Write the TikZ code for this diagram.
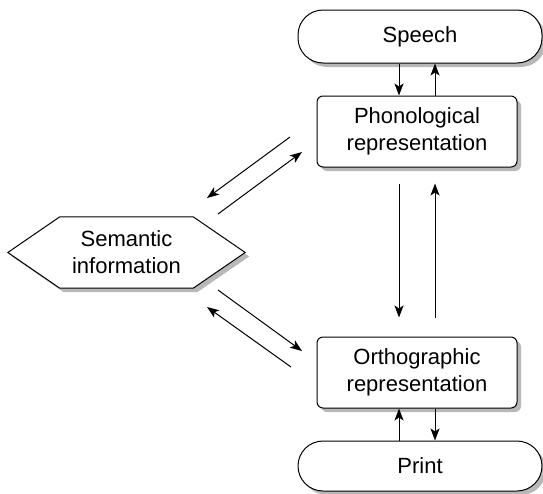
\documentclass[tikz,border=0pt]{standalone}
\usepackage{fontspec}
\setmainfont{Liberation Sans}
\usetikzlibrary{arrows.meta,shadows,calc,backgrounds}
\begin{document}
\begin{tikzpicture}[x=1pt,y=-1pt,
  font=\fontsize{22}{27}\selectfont,
  shadowed/.style={drop shadow={shadow xshift=4pt,shadow yshift=-4pt,fill=black!28,opacity=1}},
  box/.style={draw,line width=1pt,fill=white,rounded corners=6pt,minimum width=200pt,minimum height=71pt,align=center,inner sep=0pt,shadowed},
  pill/.style={draw,line width=1pt,fill=white,rounded corners=25pt,minimum width=244pt,align=center,inner sep=0pt,shadowed},
  arr/.style={line width=1pt,-{Stealth[length=12pt,width=9pt,inset=3pt]}}]
\useasboundingbox (0,0) rectangle (543,493);
\node[pill,minimum height=53pt] (speech) at (420,36.5) {Speech};
\node[box] (phon) at (417,131.5) {Phonological\\representation};
\node[box] (orth) at (417,372.5) {Orthographic\\representation};
\node[pill,minimum height=50pt] (print) at (420,466) {Print};
% hexagon
\node[minimum width=133pt,minimum height=71pt,inner sep=0pt,align=center] (sem) at (126.5,252.5) {Semantic\\information};
\begin{scope}[on background layer]
\fill[black!28] ($(sem.north west)+(4,4)$) -- ($(sem.north east)+(4,4)$) -- ($(sem.east)+(56,4)$) -- ($(sem.south east)+(4,4)$) -- ($(sem.south west)+(4,4)$) -- ($(sem.west)+(-48,4)$) -- cycle;
\filldraw[fill=white,line width=1pt,line join=miter] (sem.north west) -- (sem.north east) -- ($(sem.east)+(52,0)$) -- (sem.south east) -- (sem.south west) -- ($(sem.west)+(-52,0)$) -- cycle;
\end{scope}
% vertical arrows
\draw[arr] ([xshift=-18pt]phon.north |- speech.south) -- ([xshift=-18pt]phon.north);
\draw[arr] ([xshift=18pt]phon.north) -- ([xshift=18pt]phon.north |- speech.south);
\draw[arr,shorten <=16pt,shorten >=19pt] ([xshift=-18pt]phon.south) -- ([xshift=-18pt]orth.north);
\draw[arr,shorten <=19pt,shorten >=16pt] ([xshift=18pt]orth.north) -- ([xshift=18pt]phon.south);
\draw[arr] ([xshift=-18pt]orth.south |- print.north) -- ([xshift=-18pt]orth.south);
\draw[arr] ([xshift=18pt]orth.south) -- ([xshift=18pt]orth.south |- print.north);
% diagonal arrows
\coordinate (a1) at (290,137); \coordinate (a2) at (207,198);
\coordinate (b1) at (218,214); \coordinate (b2) at (302,152);
\coordinate (c1) at (218,290); \coordinate (c2) at (302,351);
\coordinate (d1) at (291,367); \coordinate (d2) at (207,307);
\draw[arr] (a1) -- (a2);
\draw[arr] (b1) -- (b2);
\draw[arr] (c1) -- (c2);
\draw[arr] (d1) -- (d2);
\end{tikzpicture}
\end{document}
